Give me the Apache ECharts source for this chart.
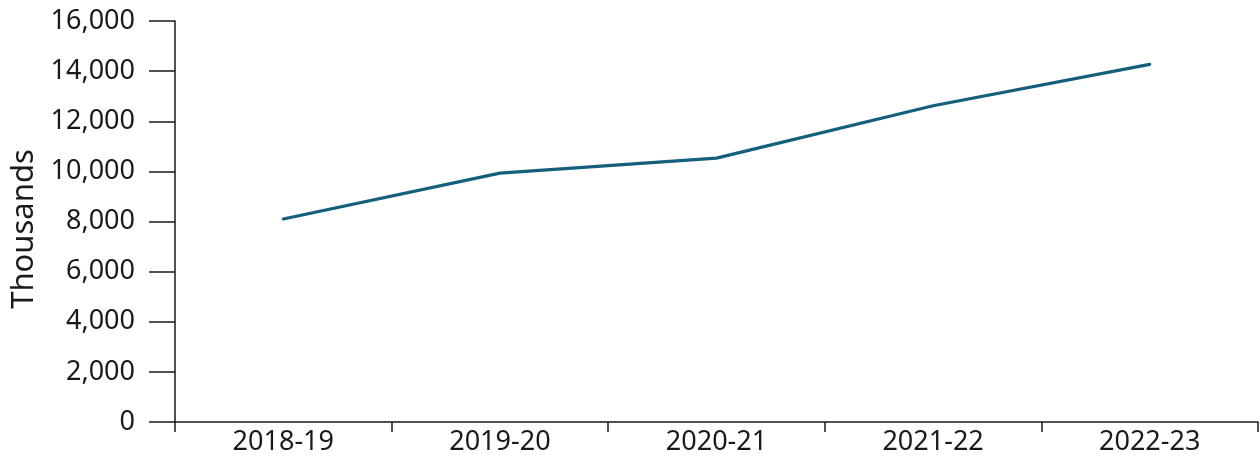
<!DOCTYPE html>
<html>
<head>
<meta charset="utf-8">
<script src="https://cdn.jsdelivr.net/npm/echarts@6/dist/echarts.min.js"></script>
<style>
  html, body { margin: 0; padding: 0; background: #fff; }
  #chart { width: 1260px; height: 461px; }
</style>
</head>
<body>
<div id="chart"></div>
<script>
// Financial years along the x-axis
const years = ['2018-19', '2019-20', '2020-21', '2021-22', '2022-23'];
// Values in thousands
const values = [8100, 9930, 10530, 12620, 14270];
// Y-axis range and step
const yMin = 0;
const yMax = 16000;
const yStep = 2000;

const FONT = '"Noto Sans", sans-serif';
const TEXT = '#1a1a1a';
const AXIS = '#1a1a1a';

const chart = echarts.init(document.getElementById('chart'), null, { renderer: 'canvas' });
chart.setOption({
  animation: false,
  backgroundColor: '#ffffff',
  grid: { left: 175, right: 2, top: 21, bottom: 39, containLabel: false, outerBoundsMode: 'none' },
  xAxis: {
    type: 'category',
    data: years,
    boundaryGap: true,
    axisLine: { show: true, lineStyle: { color: AXIS, width: 1.5 } },
    axisTick: { show: true, alignWithLabel: false, length: 10, lineStyle: { color: AXIS, width: 1.5 } },
    axisLabel: { color: TEXT, fontFamily: FONT, fontSize: 27, margin: 7 },
    splitLine: { show: false }
  },
  yAxis: {
    type: 'value',
    min: yMin,
    max: yMax,
    interval: yStep,
    name: 'Thousands',
    nameLocation: 'middle',
    nameGap: 134,
    nameTextStyle: { color: TEXT, fontFamily: FONT, fontSize: 31, padding: [0, 15, 0, 0] },
    axisLine: { show: true, lineStyle: { color: AXIS, width: 1.5 } },
    axisTick: { show: true, length: 26, lineStyle: { color: AXIS, width: 1.5 } },
    axisLabel: {
      color: TEXT, fontFamily: FONT, fontSize: 27, margin: 40,
      formatter: v => v.toLocaleString('en-US')
    },
    splitLine: { show: false }
  },
  series: [{
    type: 'line',
    data: values,
    showSymbol: false,
    symbol: 'none',
    lineStyle: { color: '#155f7e', width: 3.2, cap: 'round', join: 'round' }
  }]
});
</script>
</body>
</html>
